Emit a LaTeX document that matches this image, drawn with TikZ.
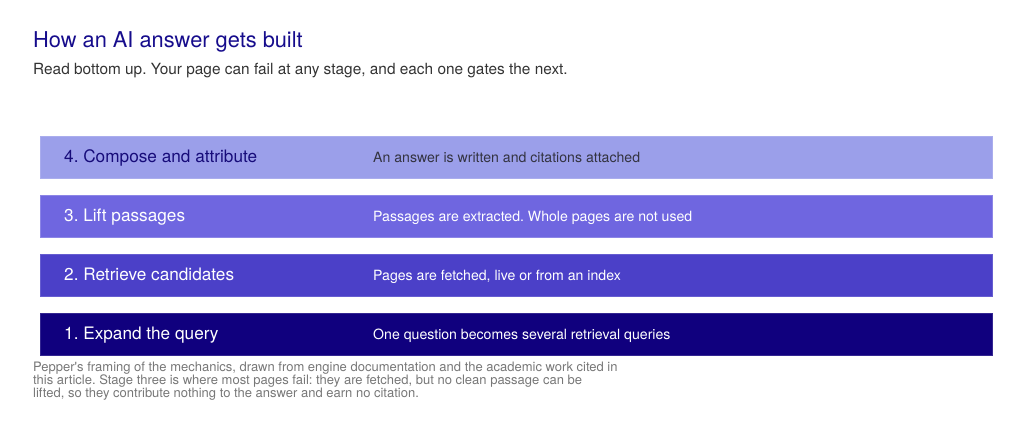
\documentclass[tikz,border=0pt]{standalone}
\usepackage{fontspec}
\setmainfont{TeX Gyre Heros}
\usetikzlibrary{positioning}
\frenchspacing

\definecolor{titleblue}{HTML}{160C8C}
\definecolor{subgray}{HTML}{333333}
\definecolor{capgray}{HTML}{777777}
\definecolor{stagefour}{HTML}{9B9FEA}
\definecolor{stagethree}{HTML}{6F66E0}
\definecolor{stagetwo}{HTML}{4B40C8}
\definecolor{stageone}{HTML}{10007E}
\definecolor{darknavy}{HTML}{170C7A}
\definecolor{notegray}{HTML}{333340}

\begin{document}
\begin{tikzpicture}[x=1pt, y=-1pt,
		stage/.style={rectangle, anchor=north west, inner sep=0pt, minimum width=952pt, minimum height=42pt, line width=0.8pt},
		stagename/.style={anchor=base west, inner sep=0pt, font=\fontsize{17.2}{20}\selectfont},
		stagenote/.style={anchor=base west, inner sep=0pt, font=\fontsize{14.1}{17}\selectfont}]
		\useasboundingbox (0,0) rectangle (1024,432);
		\node (title) [anchor=base west, inner sep=0pt, text=titleblue, font=\fontsize{21.8}{26}\selectfont] at (33,47.5) {How an AI answer gets built};
		\node (sub) [anchor=base west, inner sep=0pt, text=subgray, font=\fontsize{15.4}{18}\selectfont] at (33,74) {Read bottom up. Your page can fail at any stage, and each one gates the next.};
		\node (compose) [stage, fill=stagefour, draw=stagefour!85!white] at (40,136) {};
		\node (lift)    [stage, fill=stagethree, draw=stagethree!80!white] at (40,195) {};
		\node (fetch)   [stage, fill=stagetwo, draw=stagetwo!85!white] at (40,254) {};
		\node (expand)  [stage, fill=stageone, draw=stageone!85!white] at (40,313) {};
		\node (composename) [stagename, text=darknavy] at ([xshift=24pt, yshift=-5.5pt]compose.west) {4. Compose and attribute};
		\node (liftname)    [stagename, text=white]    at ([xshift=24pt, yshift=-5.5pt]lift.west) {3. Lift passages};
		\node (fetchname)   [stagename, text=white]    at ([xshift=24pt, yshift=-5.5pt]fetch.west) {2. Retrieve candidates};
		\node (expandname)  [stagename, text=white]    at ([xshift=24pt, yshift=-5.5pt]expand.west) {1. Expand the query};
		\node (composenote) [stagenote, text=notegray] at ([xshift=333pt, yshift=-5pt]compose.west) {An answer is written and citations attached};
		\node (liftnote)    [stagenote, text=white]    at ([xshift=333pt, yshift=-5pt]lift.west) {Passages are extracted. Whole pages are not used};
		\node (fetchnote)   [stagenote, text=white]    at ([xshift=333pt, yshift=-5pt]fetch.west) {Pages are fetched, live or from an index};
		\node (expandnote)  [stagenote, text=white]    at ([xshift=333pt, yshift=-5pt]expand.west) {One question becomes several retrieval queries};
		\node (caption) [anchor=north west, inner sep=0pt, align=left, text=capgray, font=\fontsize{13}{13}\selectfont] at (33,361.5) {Pepper\textquotesingle s framing of the mechanics, drawn from engine documentation and the academic work cited in\\this article. Stage three is where most pages fail: they are fetched, but no clean passage can be\\lifted, so they contribute nothing to the answer and earn no citation.};
\end{tikzpicture}
\end{document}
